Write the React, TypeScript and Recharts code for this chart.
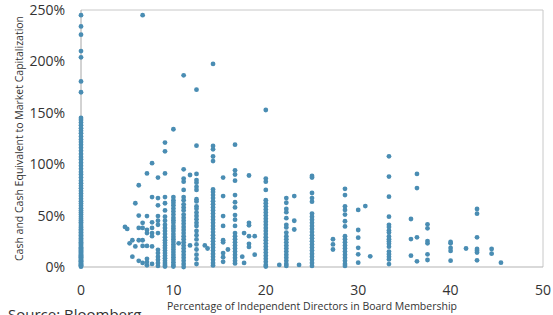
import React from "react";
import {
  ScatterChart,
  Scatter,
  XAxis,
  YAxis,
  ReferenceLine,
} from "recharts";

// share of independent directors (%) for each column of dots
const columnX = [
  0, 4.76, 5.0, 5.26, 5.56, 5.88, 6.25, 6.67, 7.14, 7.69, 8.33, 9.09, 10, 10.57,
  11.11, 11.8, 12.5, 13.4, 13.7, 14.29, 15.38, 15.9, 16.67, 17.45, 17.65, 18.18,
  18.8, 20, 21.46, 22.22, 23.08, 23.6, 25, 27.27, 28.57, 30, 30.77, 31.3, 33.33,
  35.71, 36.36, 37.5, 40, 41.67, 42.86, 44.44, 45.45,
];

// cash & equivalents to market cap (%) for the matching column
const columnY: number[][] = [
  [
    0.3, 1, 1.8, 2.5, 3.2, 4, 4.8, 5.5, 6.3, 7, 8, 8.8, 9.6, 10.5, 11.3, 12.2, 13,
    14, 15, 16.1, 17, 18.2, 19.3, 20.5, 21.6, 22.8, 24, 25.3, 26.5, 28, 29.4, 30.8,
    32.2, 33.7, 35.3, 36.8, 38.4, 40, 41.8, 43.5, 45.3, 47, 49, 51, 53, 55, 57.2,
    59.5, 61.8, 64, 66.5, 69, 71.5, 74, 76.5, 79, 81.5, 84, 87, 90, 92.5, 95.5,
    98.5, 101.5, 104.5, 107, 110, 113, 116, 119, 121.5, 124, 127, 130, 132.5, 135,
    138, 140.5, 143, 145, 170, 180.5, 204, 210, 226, 234, 245,
  ],
  [39],
  [37],
  [23],
  [10, 26],
  [62, 20],
  [79.5, 50, 38, 26, 6],
  [245, 43, 38, 26, 20.5, 4],
  [91, 49.5, 36, 33, 20.5, 8, 4.8, 1.6],
  [101, 68, 43.5, 38, 33, 30, 20, 3],
  [87, 67, 60, 49.5, 45, 41, 33, 16.7, 13.5, 10, 7, 4, 1],
  [
    121, 112.5, 91, 68, 62, 55, 49, 45, 41, 38, 35, 32, 29, 26, 23.5, 21, 18.5, 16,
    13.5, 11, 8.5, 6, 4, 2, 0.5,
  ],
  [
    134, 68, 65, 62.5, 60, 57, 54, 51, 48, 45.5, 43, 40, 37.5, 35, 32, 29.5, 27,
    24.5, 22, 19.5, 17, 14.5, 12, 9.5, 7, 4.5, 2, 0.5,
  ],
  [23],
  [
    186.5, 95, 86, 83, 75, 68, 65, 61, 58, 55, 51, 48, 45, 42, 39, 36, 33, 30, 27,
    24, 21, 18, 15, 12, 9, 6, 3, 0,
  ],
  [89.5, 21],
  [
    172.5, 118, 90.5, 84.6, 82, 78, 75, 66, 63.8, 59, 56.6, 52.9, 49.6, 46.4, 43,
    39.9, 35, 30.9, 26.8, 22, 17, 12, 7.7, 2.9,
  ],
  [21],
  [18],
  [
    197.5, 117.7, 114.5, 107.5, 103, 75.5, 73, 70, 67, 64, 61, 58, 55, 52, 49, 46,
    43, 40, 37, 34, 31, 28, 25, 22, 19, 16, 13, 10, 7, 4, 1.5,
  ],
  [87, 69, 49.5, 40, 26, 24, 13.5, 9.5, 5],
  [17],
  [119, 94, 90, 84, 70, 63, 58, 50.5, 46, 40, 33, 30, 27, 24, 21, 18, 15, 12, 9, 6, 3.5],
  [10],
  [33, 4],
  [89, 43, 40.5, 30, 22.5, 19.5],
  [30, 12],
  [
    152.7, 86, 83, 75, 65, 62, 59, 56, 53, 50, 47, 44, 41, 38, 35, 32, 29, 26, 23,
    20, 17, 14, 11, 8, 5, 2, 0.5,
  ],
  [2],
  [67, 62.5, 56.5, 53.3, 47.5, 41, 38.5, 33.5, 30, 27, 24, 21, 18, 15, 12, 9, 6, 3, 1],
  [69, 45, 36.5],
  [2],
  [
    88.5, 87, 72, 67, 63.5, 52, 49, 46, 43, 40, 37, 34, 31, 28, 25, 22, 19, 16, 13,
    10, 7, 4, 1,
  ],
  [27, 22, 17],
  [76, 70, 59, 55.5, 51, 44.5, 39.5, 30, 27, 24, 21, 18, 15, 12, 9, 6, 3, 1],
  [55.5, 36, 28.5, 18.7, 12.3, 4.2],
  [59.3],
  [10.4],
  [107.7, 88, 68.4, 49, 41, 39, 35.5, 33.5, 29.7, 27, 24.8, 22.5, 19.8, 15, 12.6, 10, 7.4, 2.8],
  [46.7, 27.2, 11],
  [90.5, 76.8, 28.9, 5.5],
  [41.5, 37.6, 25.2, 23, 12.3, 6.8],
  [24.3, 23, 18.5, 15.6, 6.2],
  [18],
  [56.4, 51.9, 28.9, 17.5, 15.7, 14, 6.5],
  [17.5, 13],
  [4.2],
];

const xTicks = [0, 10, 20, 30, 40, 50];
const yTicks = [0, 50, 100, 150, 200, 250];

const points = columnX.flatMap((x, i) => columnY[i].map((y) => ({ x, y })));

const FONT = "'Open Sans', 'Liberation Sans', sans-serif";
const DOT = "#4a8db3";

export default function App() {
  return (
    <div style={{ position: "absolute", left: 0, top: 0, background: "#fff" }}>
      <ScatterChart
        width={553}
        height={315}
        margin={{ top: 10, right: 10, bottom: 0, left: 0 }}
        style={{ fontFamily: FONT }}
      >
        <XAxis
          type="number"
          dataKey="x"
          domain={[0, 50]}
          ticks={xTicks}
          height={48}
          tickLine={false}
          tickMargin={12}
          axisLine={{ stroke: "#b3b3b3" }}
          tick={{ fontSize: 14, fill: "#333" }}
          label={{
            value: "Percentage of Independent Directors in Board Membership",
            position: "insideBottom",
            offset: 5,
            fontSize: 10.5,
            fill: "#333",
          }}
        />
        <YAxis
          type="number"
          dataKey="y"
          domain={[0, 250]}
          ticks={yTicks}
          width={81}
          tickLine={false}
          tickMargin={10}
          axisLine={{ stroke: "#a6a6a6" }}
          tickFormatter={(v) => `${v}%`}
          tick={{ fontSize: 14, fill: "#333" }}
          label={{
            value: "Cash and Cash Equivalent to Market Capitalization",
            angle: -90,
            position: "insideLeft",
            offset: 19,
            fontSize: 10.5,
            fill: "#333",
            style: { textAnchor: "middle" },
          }}
        />
        <ReferenceLine y={250} stroke="#c8c8c8" />
        <ReferenceLine x={50} stroke="#c8c8c8" />
        <Scatter
          data={points}
          fill={DOT}
          isAnimationActive={false}
          shape={(p: any) => <circle cx={p.cx} cy={p.cy} r={2.4} fill={DOT} />}
        />
        <text x={8} y={320} fontSize={15} fill="#333" fontFamily={FONT}>
          Source: Bloomberg
        </text>
      </ScatterChart>
    </div>
  );
}
